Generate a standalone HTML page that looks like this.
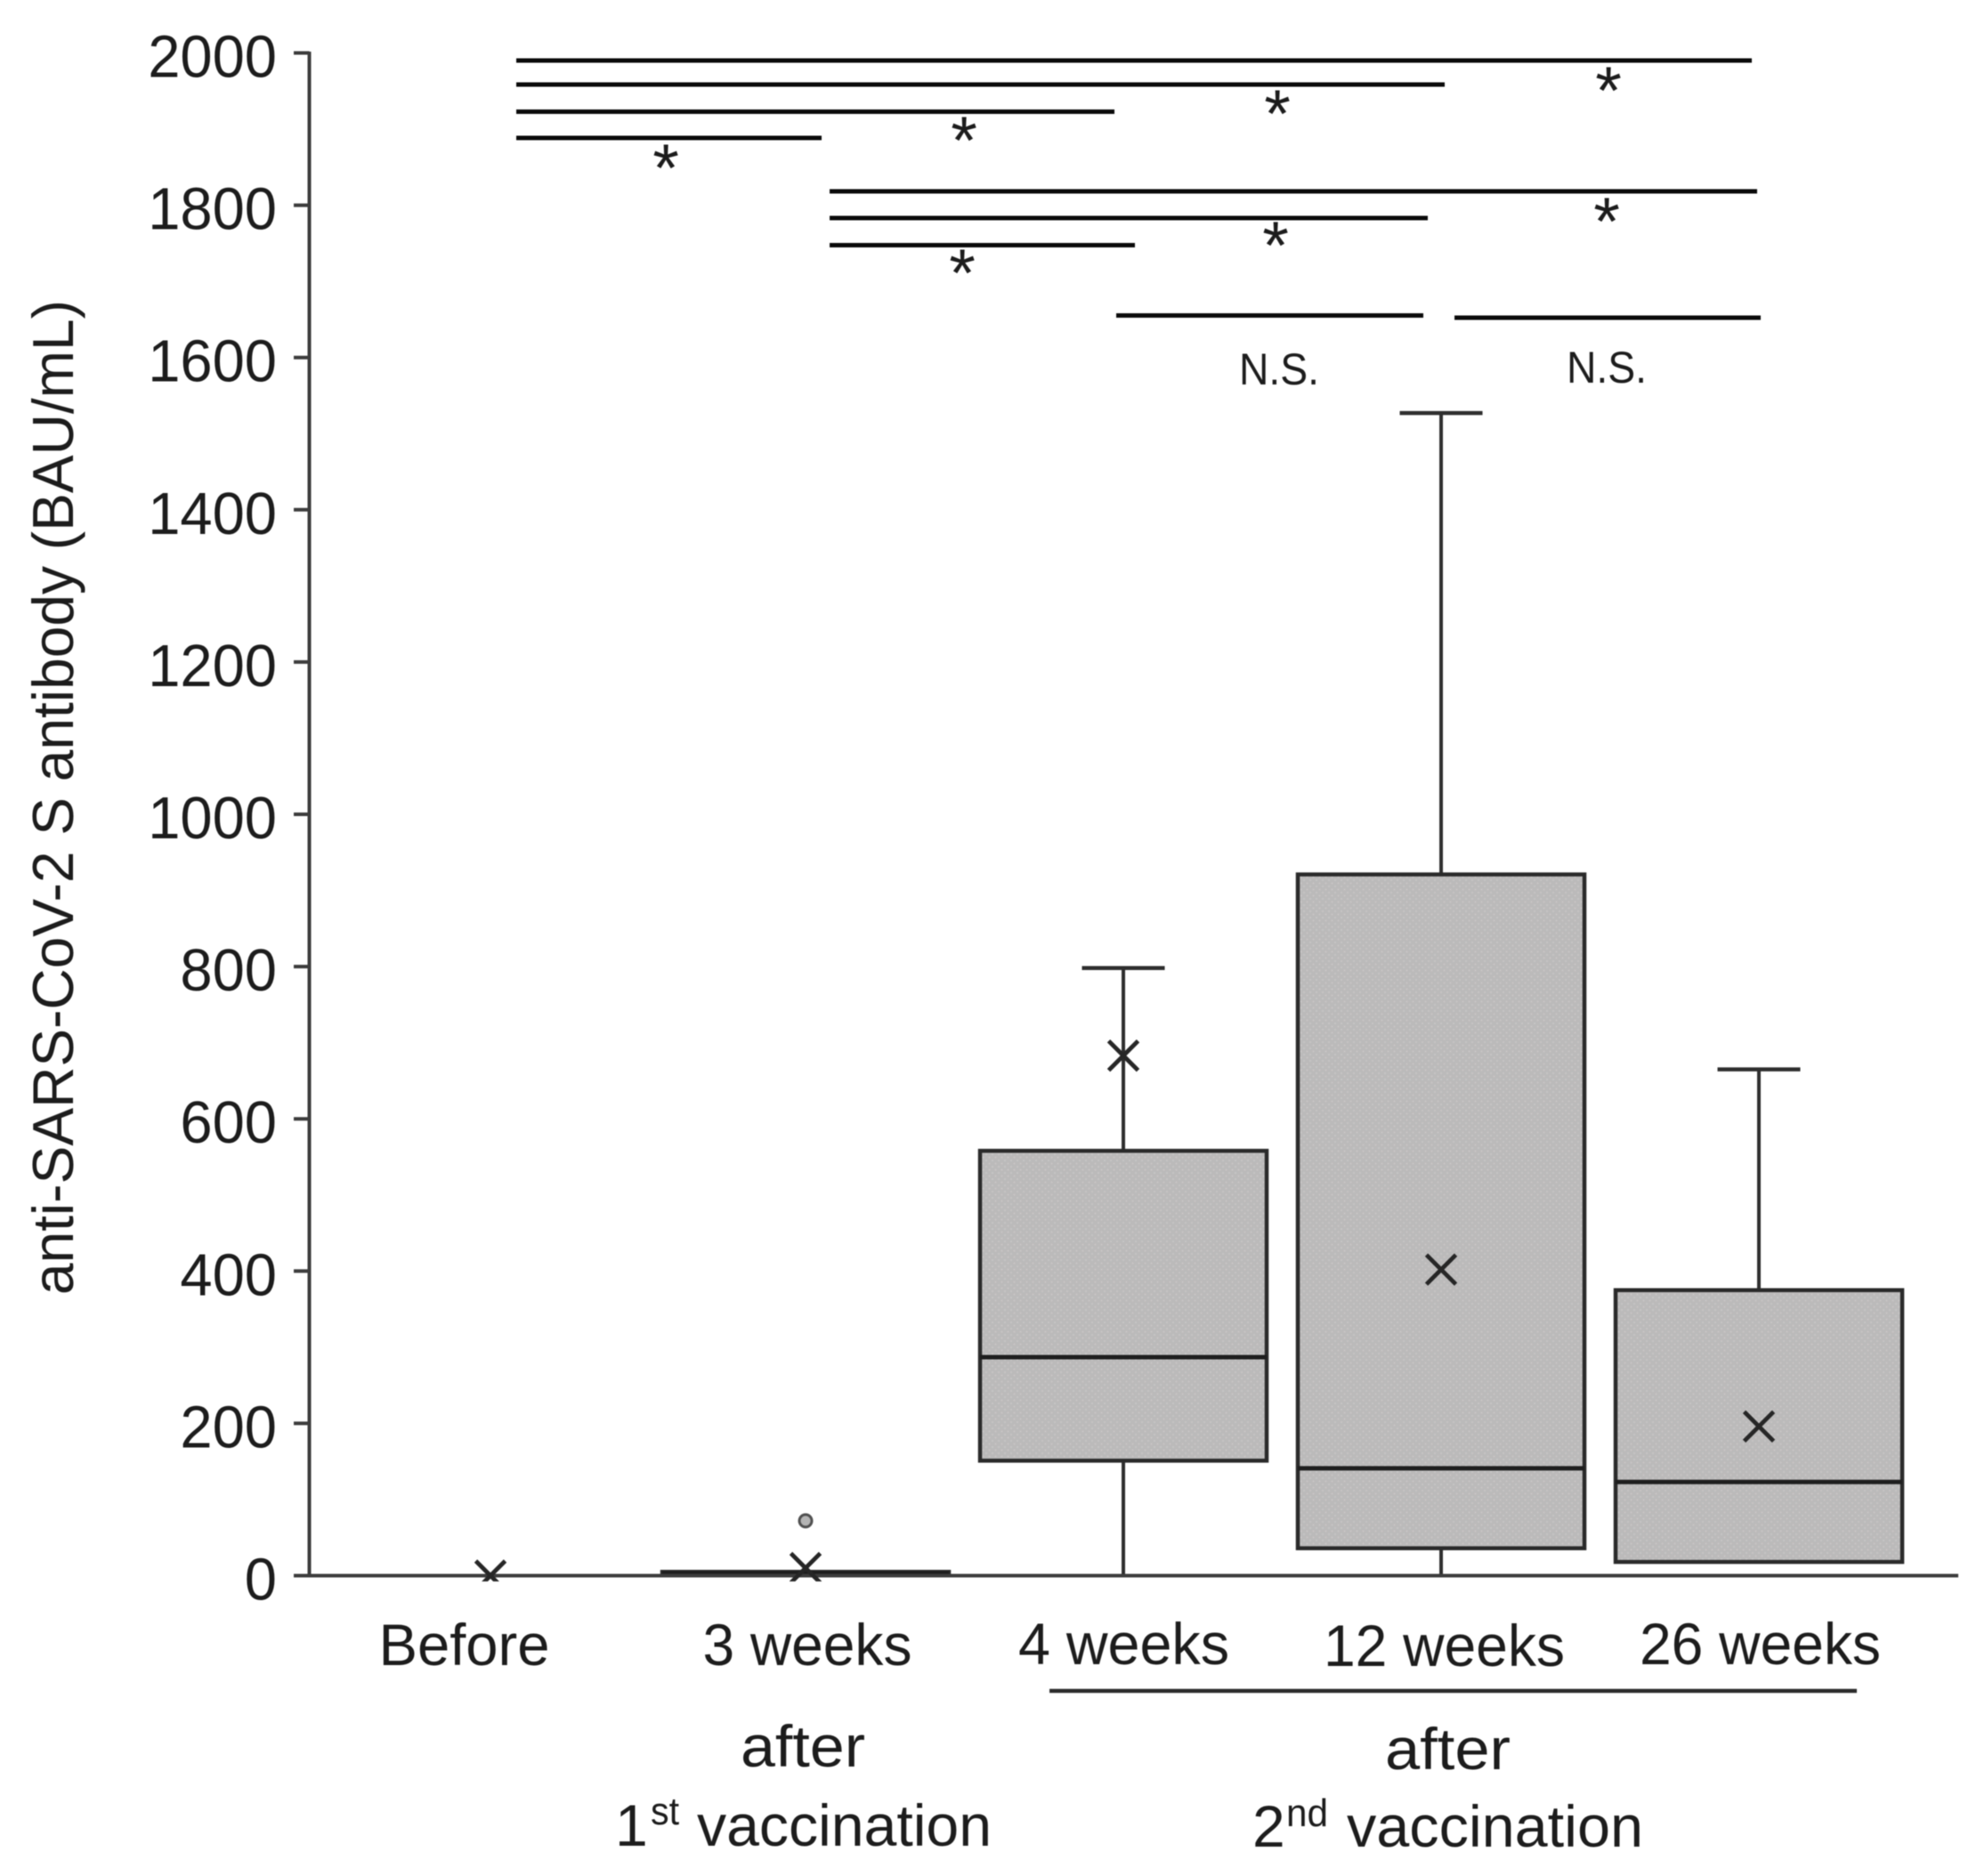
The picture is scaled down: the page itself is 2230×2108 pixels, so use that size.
<!DOCTYPE html>
<html lang="en">
<head>
<meta charset="utf-8">
<title>Anti-SARS-CoV-2 S antibody box plot</title>
<style>
  html, body { margin: 0; padding: 0; background: #ffffff; }
  body { width: 2230px; height: 2108px; overflow: hidden; }
  svg { display: block; filter: blur(0.6px); }
  text { font-family: "Liberation Sans", sans-serif; fill: #1c1c1c; }
</style>
</head>
<body>
<svg id="chart" xmlns="http://www.w3.org/2000/svg" width="2230" height="2108" viewBox="0 0 2230 2108">
  <defs>
    <pattern id="dots" width="7" height="7" patternUnits="userSpaceOnUse">
      <rect width="7" height="7" fill="#bbbaba"></rect>
      <circle cx="2" cy="2" r="1" fill="#c9c7c7"></circle>
      <circle cx="5.5" cy="5.5" r="1" fill="#c9c7c7"></circle>
    </pattern>
    <clipPath id="plot-clip"><rect x="300" y="0" width="1930" height="1777"></rect></clipPath>
  </defs>

  <rect x="0" y="0" width="2230" height="2108" fill="#ffffff"></rect>

  <text transform="translate(82,1455) rotate(-90)" x="0" y="0" font-size="65" textLength="1118" lengthAdjust="spacingAndGlyphs">anti-SARS-CoV-2 S antibody (BAU/mL)</text>

  <g stroke="#0a0a0a" stroke-width="5" fill="none">
    <line x1="580" x2="1968" y1="68" y2="68"></line>
    <line x1="580" x2="1623" y1="95" y2="95"></line>
    <line x1="580" x2="1252" y1="125.5" y2="125.5"></line>
    <line x1="580" x2="923" y1="155" y2="155"></line>
    <line x1="932" x2="1974" y1="215" y2="215"></line>
    <line x1="932" x2="1604" y1="245" y2="245"></line>
    <line x1="932" x2="1275" y1="275.5" y2="275.5"></line>
    <line x1="1254" x2="1599" y1="354.5" y2="354.5"></line>
    <line x1="1634" x2="1978" y1="357" y2="357"></line>
  </g>

  <g font-size="76" text-anchor="middle">
    <text x="748" y="215">*</text>
    <text x="1083" y="184">*</text>
    <text x="1435" y="154">*</text>
    <text x="1807" y="128">*</text>
    <text x="1081" y="333">*</text>
    <text x="1433" y="302">*</text>
    <text x="1805" y="275">*</text>
  </g>
  <text x="1392" y="432" font-size="50" textLength="90" lengthAdjust="spacingAndGlyphs">N.S.</text>
  <text x="1760" y="430" font-size="50" textLength="90" lengthAdjust="spacingAndGlyphs">N.S.</text>

  <g id="marks"></g>
  <g id="axes"></g>
  <g id="means" clip-path="url(#plot-clip)"></g>
  <g id="labels"></g>

  <line x1="1179" x2="2086" y1="1900" y2="1900" stroke="#2a2a2a" stroke-width="4.5"></line>

  <text x="832" y="1985" font-size="66" textLength="140" lengthAdjust="spacingAndGlyphs">after</text>
  <text x="691" y="2074" font-size="66">1</text>
  <text x="731" y="2050" font-size="44" textLength="32" lengthAdjust="spacingAndGlyphs">st</text>
  <text x="783" y="2074" font-size="66" textLength="331" lengthAdjust="spacingAndGlyphs">vaccination</text>

  <text x="1556" y="1988" font-size="66" textLength="141" lengthAdjust="spacingAndGlyphs">after</text>
  <text x="1407" y="2075" font-size="66">2</text>
  <text x="1445" y="2052" font-size="44" textLength="47" lengthAdjust="spacingAndGlyphs">nd</text>
  <text x="1513" y="2075" font-size="66" textLength="333" lengthAdjust="spacingAndGlyphs">vaccination</text>
</svg>

<script>
const categories = ["Before", "3 weeks", "4 weeks", "12 weeks", "26 weeks"];
const whiskerLow = [0, 0, 0, 0, 18];
const q1Values = [0, 2, 151, 36, 18];
const medianValues = [0, 3, 287, 141, 123];
const q3Values = [0, 5, 558, 921, 375];
const whiskerHigh = [0, 5, 798, 1527, 665];
const meanValues = [0, 10, 683, 402, 196];
const outlierCategory = [1];
const outlierValues = [72];
const yTickValues = [0, 200, 400, 600, 800, 1000, 1200, 1400, 1600, 1800, 2000];

const NS = "http://www.w3.org/2000/svg";
const y = function (v) { return 1770.5 - v * 0.8555; };
const x = function (i) { return i === 0 ? 551 : 548 + 357 * i; };
const BOX_HALF = 161;
const CAP_HALF = 46.5;
const MARK_HALF = 16.5;

function make(tag, parent, attrs, content) {
  const el = document.createElementNS(NS, tag);
  Object.keys(attrs).forEach(function (k) { el.setAttribute(k, attrs[k]); });
  if (content !== undefined) el.textContent = content;
  parent.appendChild(el);
  return el;
}

const marks = document.getElementById("marks");
const means = document.getElementById("means");
const axes = document.getElementById("axes");
const labels = document.getElementById("labels");

categories.forEach(function (cat, i) {
  const key = cat.toLowerCase().replace(/\s+/g, "-");
  const cx = x(i);

  if (whiskerHigh[i] > q3Values[i]) {
    const upper = make("line", marks, { x1: cx, x2: cx, y1: y(whiskerHigh[i]), y2: y(q3Values[i]), stroke: "#2e2e2e", "stroke-width": 4 });
    
    
    const cap = make("line", marks, { x1: cx - CAP_HALF, x2: cx + CAP_HALF, y1: y(whiskerHigh[i]), y2: y(whiskerHigh[i]), stroke: "#2e2e2e", "stroke-width": 4.5 });
    
    
  }
  if (q1Values[i] > whiskerLow[i]) {
    const lower = make("line", marks, { x1: cx, x2: cx, y1: y(q1Values[i]), y2: y(whiskerLow[i]), stroke: "#2e2e2e", "stroke-width": 4 });
    
    
  }
  const box = make("rect", marks, { x: cx - BOX_HALF, y: y(q3Values[i]), width: BOX_HALF * 2, height: y(q1Values[i]) - y(q3Values[i]), fill: "url(#dots)", stroke: q3Values[i] > 0 ? "#2a2a2a" : "#3a3a3a", "stroke-width": q3Values[i] > 0 ? 4.5 : 0 });
  
  
  if (q3Values[i] > 0) {
    const median = make("line", marks, { x1: cx - BOX_HALF, x2: cx + BOX_HALF, y1: y(medianValues[i]), y2: y(medianValues[i]), stroke: "#1e1e1e", "stroke-width": 5 });
    
    
  }

  const my = y(meanValues[i]);
  const m1 = make("line", means, { x1: cx - MARK_HALF, x2: cx + MARK_HALF, y1: my - MARK_HALF, y2: my + MARK_HALF, stroke: "#262626", "stroke-width": 4.8 });
  
  
  const m2 = make("line", means, { x1: cx - MARK_HALF, x2: cx + MARK_HALF, y1: my + MARK_HALF, y2: my - MARK_HALF, stroke: "#262626", "stroke-width": 4.8 });
  
  
});

outlierValues.forEach(function (v, k) {
  const dot = make("circle", marks, { cx: x(outlierCategory[k]), cy: y(v), r: 7, fill: "#b4b4b4", stroke: "#505050", "stroke-width": 3 });
  
  
});

const yAxis = make("line", axes, { x1: 347.5, x2: 347.5, y1: y(2000) - 1.5, y2: y(0), stroke: "#3c3c3c", "stroke-width": 4 });


const xAxis = make("line", axes, { x1: 330, x2: 2200, y1: y(0), y2: y(0), stroke: "#3c3c3c", "stroke-width": 4 });



yTickValues.forEach(function (t) {
  const tick = make("line", axes, { x1: 330, x2: 347.5, y1: y(t), y2: y(t), stroke: "#3c3c3c", "stroke-width": 4 });
  
  
  const text = String(t);
  const label = make("text", labels, { x: 311, y: y(t) + 27, "font-size": 67, "text-anchor": "end", textLength: text.length * 36.2, lengthAdjust: "spacingAndGlyphs" }, text);
  
  
});

function categoryLabel(i, offset, baseline, width) {
  const key = categories[i].toLowerCase().replace(/\s+/g, "-");
  const label = make("text", labels, { x: x(i) + offset, y: baseline, "font-size": 66, "text-anchor": "middle", textLength: width, lengthAdjust: "spacingAndGlyphs" }, categories[i]);
  
  
}
categoryLabel(0, -29.5, 1871, 192);
categoryLabel(1, 2, 1871, 235);
categoryLabel(2, 0.5, 1870, 237);
categoryLabel(3, 3.5, 1872, 271);
categoryLabel(4, 1.5, 1870, 271);
</script>
</body>
</html>
